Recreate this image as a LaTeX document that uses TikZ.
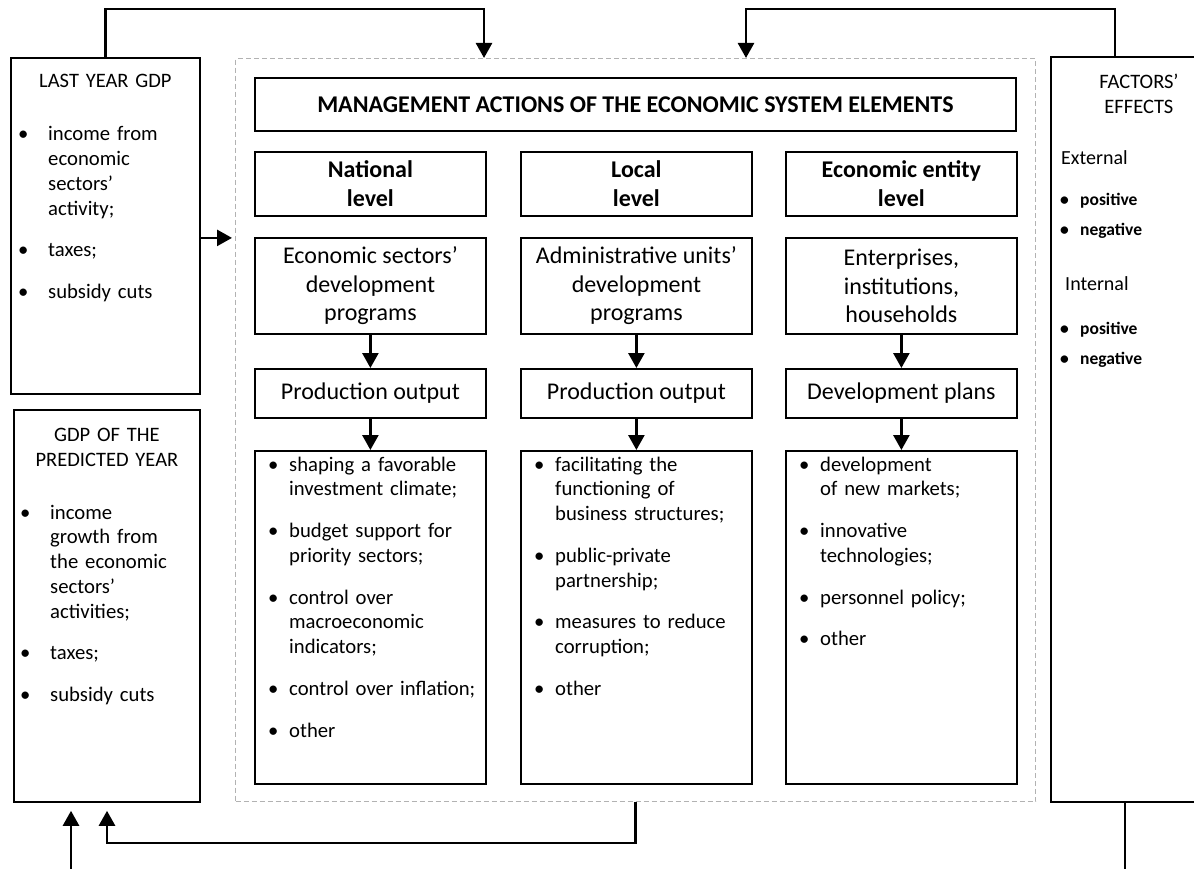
\documentclass[tikz,border=0pt]{standalone}
\usepackage{fontspec}
\setmainfont{Carlito}
\usepackage{tikz}
\usetikzlibrary{arrows.meta}
\newlength{\itemgap}
\setlength{\itemgap}{17pt}
\newcommand{\bitem}[2][21pt]{\raggedright\let\\\newline\hangindent=#1\hangafter=1\noindent\hbox to #1{\textbullet\hfil}#2\par\vspace{\itemgap}}
\tikzset{box/.style = {draw, line width = 1.8pt, inner sep = 0, anchor = north west,
                       align = center, font = \fontsize{24}{28.5}\selectfont}}
\tikzset{lvl/.style = {box, font = \bfseries\fontsize{24}{28.5}\selectfont}}
\tikzset{cell/.style = {box, minimum width = 231pt, minimum height = #1}}
\tikzset{frame/.style = {draw = gray!60, line width = 1.2pt, dash pattern = on 5pt off 3pt,
                         inner sep = 0, anchor = north west}}
\tikzset{head/.style = {anchor = base, inner sep = 0, align = center, text width = #1,
                        font = \fontsize{20.5}{25}\selectfont}, head/.default = 180pt}
\tikzset{items/.style = {anchor = base west, inner sep = 0, text width = #1,
                         font = \fontsize{20.7}{24.75}\selectfont}}
\tikzset{link/.style = {line width = 2.6pt}}
\tikzset{arr/.style = {link, -{Triangle[length = 15pt, width = 16pt]}}}

\begin{document}
\begin{tikzpicture}[x = 1pt, y = -1pt]
  \path [use as bounding box, clip] (0, 0) rectangle (1194, 869);

  % management actions
  \node [frame, minimum width = 800pt, minimum height = 743pt] (mgmt) at (235, 58) {};
  \node [lvl, minimum width = 761pt, minimum height = 53pt] (actions) at (254, 77)
    {MANAGEMENT ACTIONS OF THE ECONOMIC SYSTEM ELEMENTS};

  \node [cell = 64pt, lvl] (natlvl) at (254, 151) {National\\level};
  \node [cell = 64pt, lvl] (loclvl) at (520, 151) {Local\\level};
  \node [cell = 64pt, lvl] (entlvl) at (785, 151) {Economic entity\\level};

  \node [cell = 96pt] (natprog) at (254, 237) {Economic sectors’\\development\\programs};
  \node [cell = 96pt] (locprog) at (520, 237) {Administrative units’\\development\\programs};
  \node [cell = 96pt] (entprog) at (785, 237) {Enterprises,\\institutions,\\households};

  \node [cell = 49pt] (natout) at (254, 368) {Production output};
  \node [cell = 49pt] (locout) at (520, 368) {Production output};
  \node [cell = 49pt] (entout) at (785, 368) {Development plans};

  \node [cell = 333pt] (natlist) at (254, 450) {};
  \node [cell = 333pt] (loclist) at (520, 450) {};
  \node [cell = 333pt] (entlist) at (785, 450) {};

  \node [items = 210pt] (natitems) at ([xshift = 14pt, yshift = -21pt]natlist.north west)
    {\bitem{shaping a favorable\\investment climate;}\bitem{budget support for\\priority sectors;}%
     \bitem{control over\\macroeconomic\\indicators;}\bitem{control over inflation;}\bitem{other}};
  \node [items = 210pt] (locitems) at ([xshift = 14pt, yshift = -21pt]loclist.north west)
    {\bitem{facilitating the\\functioning of\\business structures;}\bitem{public-private\\partnership;}%
     \bitem{measures to reduce\\corruption;}\bitem{other}};
  \node [items = 210pt] (entitems) at ([xshift = 14pt, yshift = -21pt]entlist.north west)
    {\bitem{development\\of new markets;}\bitem{innovative\\technologies;}%
     \bitem{personnel policy;}\bitem{other}};

  \foreach \col in {nat, loc, ent} {
    \draw [arr] (\col prog) -- (\col out);
    \draw [arr] (\col out) -- (\col list);
  }

  % GDP boxes
  \node [box, minimum width = 189pt, minimum height = 336pt] (lastgdp) at (10, 57) {};
  \node [head] (lastgdphead) at ([yshift = -31pt]lastgdp.north) {LAST YEAR GDP};
  \node [items = 178pt] (lastgdpitems) at ([xshift = 8pt, yshift = -84pt]lastgdp.north west)
    {\bitem[30pt]{income from\\economic\\sectors’\\activity;}\bitem[30pt]{taxes;}\bitem[30pt]{subsidy cuts}};

  \node [box, minimum width = 186pt, minimum height = 392pt] (nextgdp) at (13, 409) {};
  \node [head] (nextgdphead) at ([yshift = -32pt]nextgdp.north) {GDP OF THE\\PREDICTED YEAR};
  \node [items = 175pt] (nextgdpitems) at ([xshift = 7pt, yshift = -110pt]nextgdp.north west)
    {\bitem[30pt]{income\\growth from\\the economic\\sectors’\\activities;}\bitem[30pt]{taxes;}\bitem[30pt]{subsidy cuts}};

  % factors
  \node [box, minimum width = 176pt, minimum height = 745pt] (factors) at (1050, 56) {};
  \node [head] (factorshead) at ([yshift = -33pt]factors.north) {FACTORS’\\EFFECTS};
  \node [items = 150pt, font = \fontsize{20}{24}\selectfont] (external)
    at ([xshift = 11pt, yshift = -109pt]factors.north west) {External};
  \node [items = 150pt, font = \bfseries\fontsize{17.5}{22}\selectfont] (extitems)
    at ([xshift = 10pt, yshift = -150pt]factors.north west)
    {\setlength{\itemgap}{8pt}\bitem[20pt]{positive}\bitem[20pt]{negative}};
  \node [items = 150pt, font = \fontsize{20}{24}\selectfont] (internal)
    at ([xshift = 15pt, yshift = -234pt]factors.north west) {Internal};
  \node [items = 150pt, font = \bfseries\fontsize{17.5}{22}\selectfont] (intitems)
    at ([xshift = 10pt, yshift = -278pt]factors.north west)
    {\setlength{\itemgap}{8pt}\bitem[20pt]{positive}\bitem[20pt]{negative}};

  % connectors
  \coordinate (feed) at ([yshift = -12pt]lastgdp.east);
  \draw [arr, shorten >= 3pt] (feed) -- (feed -| mgmt.west);

  \coordinate (topL) at (484, 9);
  \draw [arr] (lastgdp.north) |- (topL) -- (topL |- mgmt.north);
  \coordinate (facttop) at ([xshift = -24pt]factors.north);
  \coordinate (topR) at (746, 9);
  \draw [arr] (facttop) |- (topR) -- (topR |- mgmt.north);

  \coordinate (botL) at (107, 843);
  \draw [arr, shorten >= 8pt] (mgmt.south) |- (botL) -- (botL |- nextgdp.south);
  \coordinate (inL) at (71, 869);
  \draw [arr, shorten >= 8pt] (inL) -- (inL |- nextgdp.south);
  \coordinate (outR) at (1125, 869);
  \draw [link] (outR |- factors.south) -- (outR);
\end{tikzpicture}
\end{document}
